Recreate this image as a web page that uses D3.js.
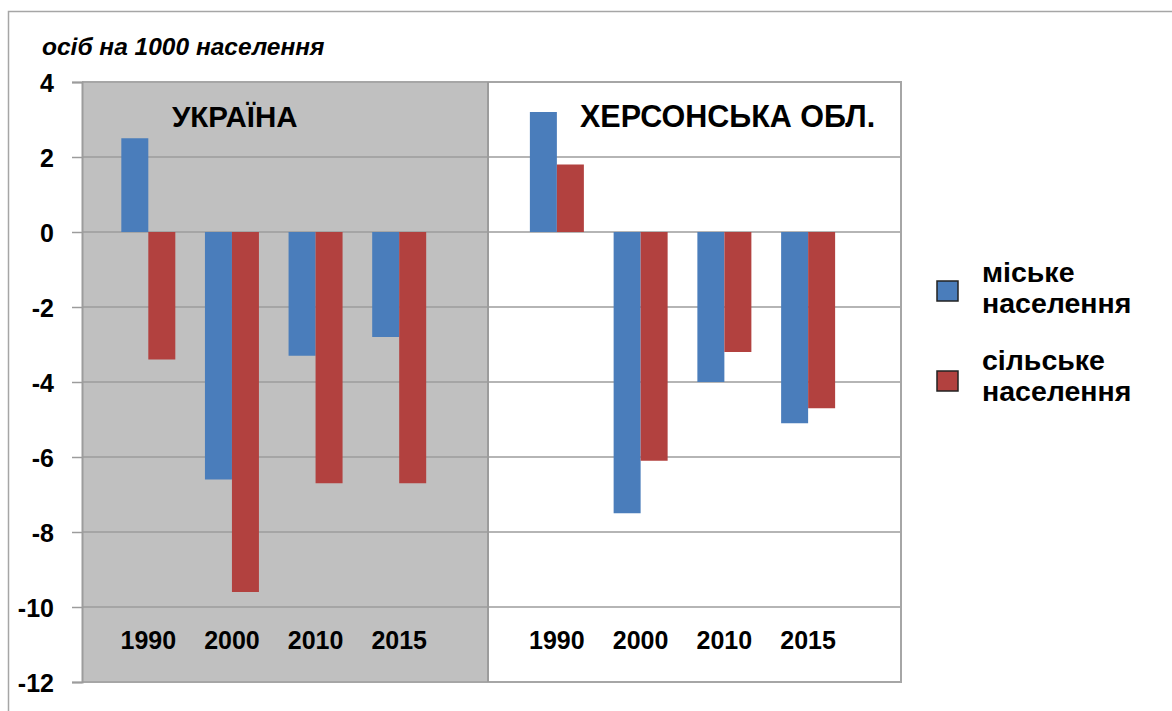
<!DOCTYPE html>
<html>
<head>
<meta charset="utf-8">
<script src="https://cdn.jsdelivr.net/npm/d3@7"></script>
<style>
  body { margin: 0; background: #fff; }
  svg { font-family: "Liberation Sans", Arial, sans-serif; }
  .axis text { font-weight: bold; fill: #000; }
</style>
</head>
<body>
<svg id="chart"></svg>
<script>
// data
var years = ['1990', '2000', '2010', '2015'];
var seriesNames = ['міське населення', 'сільське населення'];
var panelNames = ['УКРАЇНА', 'ХЕРСОНСЬКА ОБЛ.'];
var ukraineUrban = [2.5, -6.6, -3.3, -2.8];
var ukraineRural = [-3.4, -9.6, -6.7, -6.7];
var khersonUrban = [3.2, -7.5, -4.0, -5.1];
var khersonRural = [1.8, -6.1, -3.2, -4.7];
var yTicks = [4, 2, 0, -2, -4, -6, -8, -10, -12];

var colors = ['#4a7dbb', '#b2413f'];

var width = 1172, height = 711;
var plot = {left: 82, right: 901, top: 82, bottom: 682, divider: 488};

var svg = d3.select('#chart')
    .attr('width', width)
    .attr('height', height);

// outer frame (top + left edges visible)
svg.append('path')
    .attr('d', `M8.5,${height} V11.5 H${width}`)
    .attr('fill', 'none')
    .attr('stroke', '#a6a6a6')
    .attr('stroke-width', 1.5);

var yScale = d3.scaleLinear()
    .domain([-12, 4])
    .range([plot.bottom, plot.top]);

// panel backgrounds
var panels = [
    {name: panelNames[0], x0: plot.left, x1: plot.divider, fill: '#c0c0c0',
     urban: ukraineUrban, rural: ukraineRural, range: [106.5, 441], titleX: 172, titleSize: 29.5},
    {name: panelNames[1], x0: plot.divider, x1: plot.right, fill: '#ffffff',
     urban: khersonUrban, rural: khersonRural, range: [515, 850], titleX: 580, titleSize: 30.5}
];

svg.selectAll('.panel-bg')
    .data(panels)
    .join('rect')
    .attr('class', 'panel-bg')
    .attr('x', d => d.x0)
    .attr('y', plot.top)
    .attr('width', d => d.x1 - d.x0)
    .attr('height', plot.bottom - plot.top)
    .attr('fill', d => d.fill);

// gridlines
svg.append('g')
    .selectAll('line')
    .data(yTicks)
    .join('line')
    .attr('x1', plot.left)
    .attr('x2', plot.right)
    .attr('y1', d => yScale(d))
    .attr('y2', d => yScale(d))
    .attr('stroke', '#9c9c9c')
    .attr('stroke-width', 1.5);

// plot border
svg.append('path')
    .attr('d', `M${plot.left},${plot.top} H${plot.right} V${plot.bottom} H${plot.left}`)
    .attr('fill', 'none')
    .attr('stroke', '#a6a6a6')
    .attr('stroke-width', 2);

svg.append('line')
    .attr('x1', plot.divider).attr('x2', plot.divider)
    .attr('y1', plot.top).attr('y2', plot.bottom)
    .attr('stroke', '#9c9c9c')
    .attr('stroke-width', 2);

// y axis
var yAxis = d3.axisLeft(yScale)
    .tickValues(yTicks)
    .tickSize(10)
    .tickPadding(18)
    .tickFormat(d3.format('d'));

var yAxisG = svg.append('g')
    .attr('class', 'axis y-axis')
    .attr('transform', `translate(${plot.left},0)`)
    .call(yAxis);
yAxisG.select('.domain').attr('stroke', '#9c9c9c').attr('stroke-width', 2);
yAxisG.selectAll('.tick line').attr('stroke', '#9c9c9c').attr('stroke-width', 1.5);
yAxisG.selectAll('.tick text')
    .style('font-size', '25px')
    .attr('dy', '0.36em')
    .text(d => d < 0 ? '-' + Math.abs(d) : d);

// bars
var x1 = d3.scaleBand()
    .domain(seriesNames)
    .range([0, 54]);

panels.forEach(p => {
    var x0 = d3.scaleBand()
        .domain(years)
        .range(p.range);

    var rows = [];
    years.forEach((yr, i) => {
        rows.push({year: yr, s: seriesNames[0], value: p.urban[i], c: colors[0]});
        rows.push({year: yr, s: seriesNames[1], value: p.rural[i], c: colors[1]});
    });

    var g = svg.append('g');
    g.selectAll('.bar')
        .data(rows)
        .join('rect')
        .attr('class', 'bar')
        .attr('x', d => x0(d.year) + x0.bandwidth() / 2 - 27 + x1(d.s))
        .attr('width', x1.bandwidth())
        .attr('y', d => yScale(Math.max(0, d.value)))
        .attr('height', d => Math.abs(yScale(d.value) - yScale(0)))
        .attr('fill', d => d.c);

    // category labels
    g.selectAll('.year')
        .data(years)
        .join('text')
        .attr('class', 'year')
        .attr('x', d => x0(d) + x0.bandwidth() / 2)
        .attr('y', 649)
        .attr('text-anchor', 'middle')
        .style('font-size', '25px')
        .style('font-weight', 'bold')
        .text(d => d);

    // panel title
    g.append('text')
        .attr('x', p.titleX)
        .attr('y', 127)
        .style('font-size', p.titleSize + 'px')
        .style('font-weight', 'bold')
        .text(p.name);
});

// unit label
svg.append('text')
    .attr('x', 42)
    .attr('y', 55)
    .style('font-size', '24.5px')
    .style('font-weight', 'bold')
    .style('font-style', 'italic')
    .text('осіб на 1000 населення');

// legend
var legend = svg.append('g')
    .attr('transform', 'translate(937,0)');

var legendItems = [
    {lines: ['міське', 'населення'], c: colors[0], boxY: 281, textY: 282},
    {lines: ['сільське', 'населення'], c: colors[1], boxY: 371, textY: 370}
];

legendItems.forEach(item => {
    legend.append('rect')
        .attr('x', 0)
        .attr('y', item.boxY)
        .attr('width', 21)
        .attr('height', 20)
        .attr('fill', item.c)
        .attr('stroke', '#222')
        .attr('stroke-width', 1.5);
    var t = legend.append('text')
        .attr('x', 45)
        .attr('y', item.textY)
        .style('font-size', '28.5px')
        .style('font-weight', 'bold');
    item.lines.forEach((l, i) => {
        t.append('tspan')
            .attr('x', 45)
            .attr('dy', i === 0 ? 0 : 31)
            .text(l);
    });
});
</script>
</body>
</html>
